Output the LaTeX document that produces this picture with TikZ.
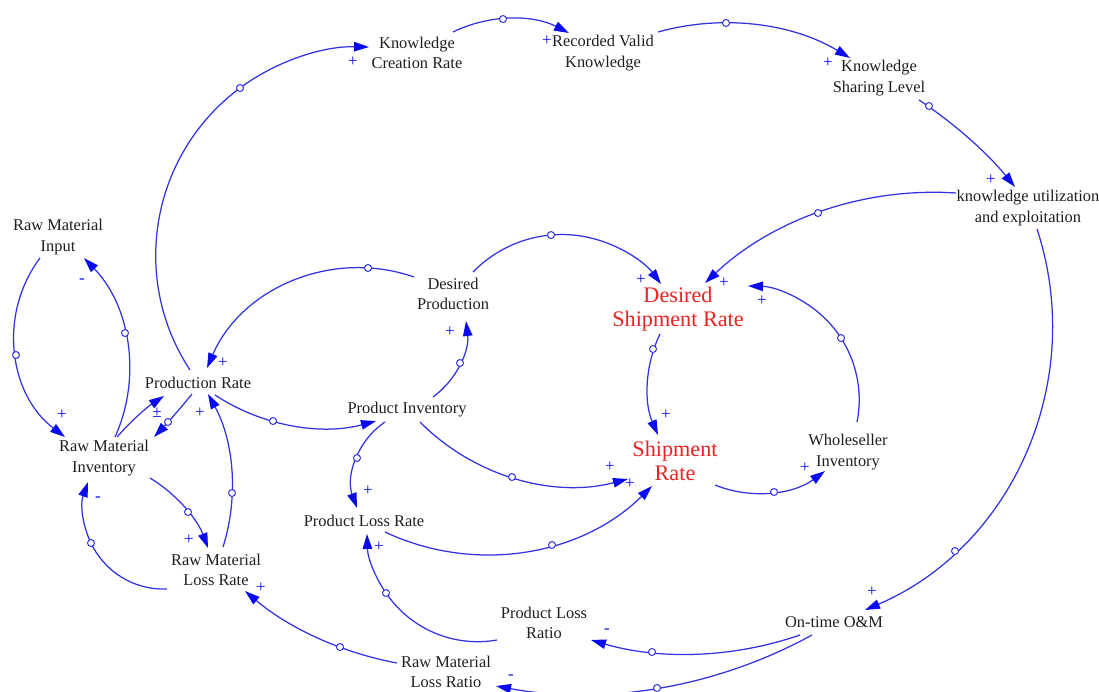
\documentclass[tikz,border=0pt]{standalone}
\usepackage{fontspec}
\setmainfont{Liberation Serif}
\usetikzlibrary{arrows.meta,calc}
\definecolor{lcol}{RGB}{50,50,225}
\definecolor{acol}{RGB}{10,10,240}
\definecolor{txt}{RGB}{30,30,30}
\definecolor{rtxt}{RGB}{235,35,35}
\newcounter{sg}
% circular arc through start, arc point and end (as Vensim draws its links)
\newcommand\cld[6]{%
  \coordinate (cS) at (#1);%
  \coordinate (cP) at (#2);%
  \coordinate (cE) at (#4);%
  \pgfpointanchor{cS}{center}\pgfgetlastxy{\cldxS}{\cldyS}%
  \pgfmathsetmacro\cldxS{\cldxS}\pgfmathsetmacro\cldyS{\cldyS}%
  \pgfpointanchor{cP}{center}\pgfgetlastxy{\cldxP}{\cldyP}%
  \pgfmathsetmacro\cldxP{\cldxP}\pgfmathsetmacro\cldyP{\cldyP}%
  \pgfpointanchor{cE}{center}\pgfgetlastxy{\cldxE}{\cldyE}%
  \pgfmathsetmacro\cldxE{\cldxE}\pgfmathsetmacro\cldyE{\cldyE}%
  \edef\cldbx{\fpeval{((\cldxP)-(\cldxS))/100}}%
  \edef\cldby{\fpeval{((\cldyP)-(\cldyS))/100}}%
  \edef\cldcx{\fpeval{((\cldxE)-(\cldxS))/100}}%
  \edef\cldcy{\fpeval{((\cldyE)-(\cldyS))/100}}%
  \edef\cldd{\fpeval{2*((\cldbx)*(\cldcy)-(\cldby)*(\cldcx))}}%
  \ifnum\fpeval{abs(\cldd)<0.002}=1\relax
    \draw[lnk] (cS) -- (cE);%
  \else
    \edef\cldbb{\fpeval{(\cldbx)*(\cldbx)+(\cldby)*(\cldby)}}%
    \edef\cldcc{\fpeval{(\cldcx)*(\cldcx)+(\cldcy)*(\cldcy)}}%
    \edef\cldux{\fpeval{((\cldcy)*(\cldbb)-(\cldby)*(\cldcc))/(\cldd)}}%
    \edef\clduy{\fpeval{((\cldbx)*(\cldcc)-(\cldcx)*(\cldbb))/(\cldd)}}%
    \edef\cldR{\fpeval{round(100*sqrt((\cldux)*(\cldux)+(\clduy)*(\clduy)),3)}}%
    \edef\cldaS{\fpeval{atand(0-(\clduy),0-(\cldux))}}%
    \edef\cldaP{\fpeval{atand((\cldby)-(\clduy),(\cldbx)-(\cldux))}}%
    \edef\cldaE{\fpeval{atand((\cldcy)-(\clduy),(\cldcx)-(\cldux))}}%
    \edef\cldqE{\fpeval{(\cldaE)-(\cldaS)+720-360*floor(((\cldaE)-(\cldaS)+720)/360)}}%
    \edef\cldqP{\fpeval{(\cldaP)-(\cldaS)+720-360*floor(((\cldaP)-(\cldaS)+720)/360)}}%
    \edef\cldaEnd{\fpeval{round((\cldaS)+(((\cldqP)<(\cldqE))?(\cldqE):((\cldqE)-360)),4)}}%
    \edef\cldaS{\fpeval{round(\cldaS,4)}}%
    \draw[lnk] (cS) arc[start angle=\cldaS, end angle=\cldaEnd, radius=\cldR];%
  \fi
  \if\relax\detokenize{#3}\relax\else
    \draw[draw=lcol, line width=1pt, fill=white] (#3) circle[radius=3.5];%
  \fi
  \if\relax\detokenize{#5}\relax\else
    \stepcounter{sg}\node[sgn] (sg\arabic{sg}) at (#5) {#6};%
  \fi
}
\begin{document}
\begin{tikzpicture}[x=1pt,y=1pt,yscale=-1,
  lab/.style={font=\fontsize{16.4}{20.5}\selectfont, text=txt, align=center, inner sep=0pt},
  hot/.style={font=\fontsize{22.2}{24.5}\selectfont, text=rtxt, align=center, inner sep=0pt},
  sgn/.style={font=\fontsize{17}{17}\selectfont, text=acol, inner sep=0pt},
  lnk/.style={draw=lcol, line width=1.25pt, -{Triangle[length=15pt,width=9.5pt,color=acol]}}]
\useasboundingbox (0,0) rectangle (1099,691);
% variables
\node[lab] (rmin)  at (58,237)   {Raw Material\\Input};
\node[lab] (pr)    at (198,383)  {Production Rate};
\node[lab] (rmi)   at (104,458)  {Raw Material\\Inventory};
\node[lab] (rmlr)  at (216,570)  {Raw Material\\Loss Rate};
\node[lab] (kcr)   at (417,53)   {Knowledge\\Creation Rate};
\node[lab] (rvk)   at (603,53)   {Recorded Valid\\Knowledge};
\node[lab] (ksl)   at (879,78)   {Knowledge\\Sharing Level};
\node[lab] (kue)   at (1028,208) {knowledge utilization\\and exploitation};
\node[lab] (dp)    at (453,294)  {Desired\\Production};
\node[hot] (dsr)   at (678,309)  {Desired\\Shipment Rate};
\node[lab] (pi)    at (407,410)  {Product Inventory};
\node[hot] (sr)    at (675,461)  {Shipment\\Rate};
\node[lab] (wi)    at (848,452)  {Wholeseller\\Inventory};
\node[lab] (plr)   at (364,521)  {Product Loss Rate};
\node[lab] (plrt)  at (544,623)  {Product Loss\\Ratio};
\node[lab] (otom)  at (834,622)  {On-time O\&M};
\node[lab] (rmlrt) at (446,672)  {Raw Material\\Loss Ratio};
% links: start, arc point, handle circle, end, sign position, sign
\cld{$(rmin)+(-18,21)$}{16,355}{16,355}{$(rmi)+(-39,-21)$}{62,415}{+}
\cld{$(rmi)+(11,-21)$}{125,333}{125,333}{$(rmin)+(26,21)$}{82,281}{-}
\cld{$(rmi)+(13,-21)$}{139,415}{}{$(pr)+(-34,13)$}{157,413}{±}
\cld{$(pr)+(-6,11)$}{168,422}{168,422}{$(rmi)+(50,-21)$}{}{}
\cld{$(rmlr)+(7,-23)$}{232,493}{232,493}{$(pr)+(10,11)$}{200,413}{+}
\cld{$(rmi)+(46,20)$}{188,512}{188,512}{$(rmlr)+(-8,-22)$}{189,540}{+}
\cld{$(rmlr)+(-49,19)$}{91,543}{91,543}{$(rmi)+(-16,24)$}{98,499}{-}
\cld{$(rmlrt)+(-49,-9)$}{340,647}{340,647}{$(rmlr)+(29,21)$}{261,588}{+}
\cld{$(pr)+(-8,-13)$}{240,88}{240,88}{$(kcr)+(-48,-6)$}{353,62}{+}
\cld{$(kcr)+(36,-21)$}{503,19}{503,19}{$(rvk)+(-34,-20)$}{547,41}{+}
\cld{$(rvk)+(55,-21)$}{726,23}{726,23}{$(ksl)+(-29,-20)$}{828,63}{+}
\cld{$(ksl)+(40,22)$}{967,137}{929,106}{$(kue)+(-13,-21)$}{991,180}{+}
\cld{$(kue)+(-72,-15)$}{818,213}{818,213}{$(dsr)+(27,-26)$}{724,283}{+}
\cld{$(kue)+(9,21)$}{955,551}{955,551}{$(otom)+(31,-12)$}{872,592}{+}
\cld{$(dp)+(-39,-17)$}{368,268}{368,268}{$(pr)+(9,-15)$}{223,363}{+}
\cld{$(dp)+(20,-22)$}{551,235}{551,235}{$(dsr)+(-17,-25)$}{641,280}{+}
\cld{$(pi)+(26,-13)$}{460,363}{460,363}{$(dp)+(13,27)$}{450,332}{+}
\cld{$(pr)+(17,12)$}{273,421}{273,421}{$(pi)+(-31,11)$}{}{}
\cld{$(pi)+(-22,12)$}{357,458}{357,458}{$(plr)+(-7,-13)$}{368,491}{+}
\cld{$(pi)+(13,12)$}{512,477}{512,477}{$(sr)+(-47,18)$}{610,467}{+}
\cld{$(plr)+(21,11)$}{552,545}{552,545}{$(sr)+(-23,25)$}{630,484}{+}
\cld{$(plrt)+(-47,17)$}{386,593}{386,593}{$(plr)+(3,13)$}{379,547}{+}
\cld{$(otom)+(-34,13)$}{652,652}{652,652}{$(plrt)+(47,17)$}{607,631}{-}
\cld{$(otom)+(-22,13)$}{657,688}{657,688}{$(rmlrt)+(50,14)$}{511,677}{-}
\cld{$(dsr)+(-18,25)$}{648,390}{653,349}{$(sr)+(-17,-26)$}{666,415}{+}
\cld{$(wi)+(9,-30)$}{841,338}{841,338}{$(dsr)+(70,-23)$}{762,301}{+}
\cld{$(sr)+(40,24)$}{774,492}{774,492}{$(wi)+(-23,19)$}{805,468}{+}
\end{tikzpicture}
\end{document}
